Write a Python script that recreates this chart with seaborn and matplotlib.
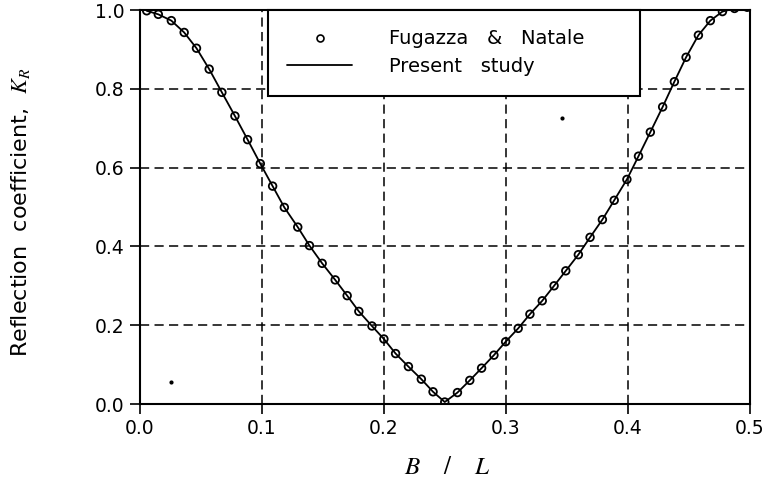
import numpy as np
import pandas as pd
import matplotlib
matplotlib.use("Agg")
import matplotlib.pyplot as plt
from matplotlib.lines import Line2D
import seaborn as sns

# ---- data ----
b_over_l = [0.0055, 0.0150, 0.0257, 0.0362, 0.0463, 0.0567, 0.0671, 0.0778, 0.0882, 0.0986,
            0.1087, 0.1183, 0.1293, 0.1389, 0.1493, 0.1600, 0.1698, 0.1794, 0.1901, 0.1999,
            0.2095, 0.2200, 0.2306, 0.2402, 0.2498, 0.2602, 0.2703, 0.2800, 0.2901, 0.2997,
            0.3100, 0.3196, 0.3297, 0.3394, 0.3490, 0.3593, 0.3689, 0.3790, 0.3887, 0.3991,
            0.4086, 0.4183, 0.4284, 0.4380, 0.4476, 0.4577, 0.4675, 0.4774, 0.4873, 0.4977]
kr_fugazza = [0.998, 0.989, 0.973, 0.943, 0.903, 0.850, 0.791, 0.731, 0.671, 0.610,
              0.553, 0.499, 0.449, 0.402, 0.357, 0.315, 0.275, 0.235, 0.198, 0.165,
              0.128, 0.095, 0.063, 0.031, 0.005, 0.029, 0.060, 0.091, 0.124, 0.158,
              0.192, 0.228, 0.262, 0.300, 0.338, 0.379, 0.423, 0.468, 0.517, 0.570,
              0.629, 0.690, 0.754, 0.818, 0.880, 0.936, 0.973, 0.996, 1.004, 1.007]
kr_present = list(kr_fugazza)

speck_x = [0.0252, 0.3457]
speck_y = [0.056, 0.727]

x_ticks = [0.0, 0.1, 0.2, 0.3, 0.4, 0.5]
y_ticks = [0.0, 0.2, 0.4, 0.6, 0.8, 1.0]
legend_labels = ["Fugazza   &   Natale", "Present   study"]

df = pd.DataFrame({"BL": b_over_l, "KF": kr_fugazza, "KP": kr_present})

sns.set_style("ticks")
plt.rcParams["font.family"] = ["DejaVu Sans"]
plt.rcParams["mathtext.fontset"] = "stix"
plt.rcParams["text.color"] = "black"
plt.rcParams["axes.labelcolor"] = "black"

fig = plt.figure(figsize=(7.68, 4.82), dpi=100)
ax = fig.add_axes([140 / 768, 1 - 404 / 482, 610 / 768, 394 / 482])

sns.lineplot(data=df, x="BL", y="KP", ax=ax, color="black", linewidth=1.3,
             sort=False, legend=False, zorder=3)
sns.scatterplot(data=df, x="BL", y="KF", ax=ax, marker="o", s=30,
                facecolors="none", edgecolors="black", linewidths=1.3,
                legend=False, zorder=4)
sns.scatterplot(x=speck_x, y=speck_y, ax=ax, color="black", s=9, linewidths=0,
                legend=False, zorder=4)

ax.set_xlim(0, 0.5)
ax.set_ylim(0, 1.0)
ax.set_xticks(x_ticks)
ax.set_yticks(y_ticks)
ax.set_xticklabels([f"{v:.1f}" for v in x_ticks])
ax.set_yticklabels([f"{v:.1f}" for v in y_ticks])
ax.tick_params(axis="both", direction="out", length=7, width=1.2, labelsize=13.5,
               color="black", labelcolor="black", pad=4)

ax.grid(True, color="black", linestyle=(0, (6, 3.5)), linewidth=1.1)
for s in ax.spines.values():
    s.set_visible(True)
    s.set_color("black")
    s.set_linewidth(1.5)

ax.set_xlabel(r"$B\ \ \ \ /\ \ \ \ L$", fontsize=18, color="black")
ax.xaxis.set_label_coords(0.503, -0.13)
ax.set_ylabel(r"Reflection  coefficient,  $K_R$", fontsize=16, color="black")
ax.yaxis.set_label_coords(-0.177, 0.487)

handles = [
    Line2D([], [], marker="o", linestyle="none", markerfacecolor="none",
           markeredgecolor="black", markersize=5, markeredgewidth=1.2),
    Line2D([], [], color="black", linewidth=1.3),
]
leg = ax.legend(handles, legend_labels, loc="upper left",
                bbox_to_anchor=((268 - 140) / 610, 1.0, 372 / 610, 0.0),
                mode="expand", borderaxespad=0, fontsize=14, frameon=True,
                fancybox=False, framealpha=1, edgecolor="black",
                borderpad=1.0, labelspacing=0.45, handlelength=3.3,
                handletextpad=1.9)
leg.get_frame().set_linewidth(1.5)
leg.set_zorder(10)
for t in leg.get_texts():
    t.set_color("black")

fig.savefig("out.png", dpi=100)
